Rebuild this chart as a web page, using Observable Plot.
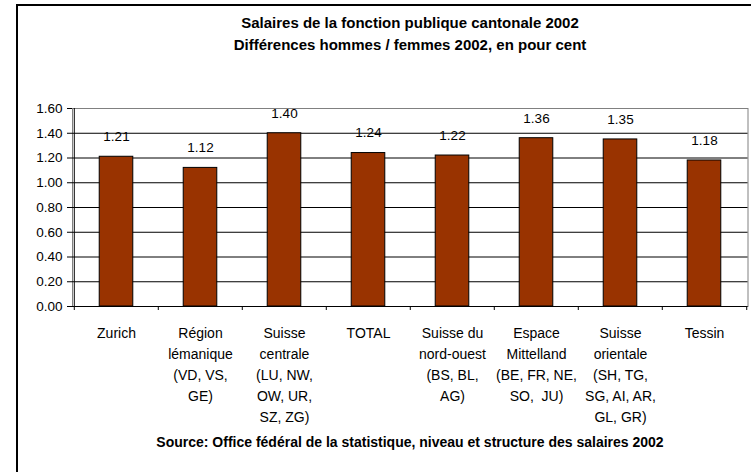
<!DOCTYPE html>
<html>
<head>
<meta charset="utf-8">
<script src="https://cdn.jsdelivr.net/npm/d3@7"></script>
<script src="https://cdn.jsdelivr.net/npm/@observablehq/plot@0.6"></script>
<style>
  html, body { margin: 0; padding: 0; background: white; }
  #wrap { position: relative; width: 751px; height: 472px; overflow: hidden; background: white;
          font-family: "Liberation Sans", Arial, sans-serif; color: black; }
  #frame { position: absolute; left: 16px; top: 4px; width: 900px; height: 600px; z-index: 2;
           border-left: 2px solid black; border-top: 2px solid black; pointer-events: none; }
  .title { position: absolute; left: 110px; width: 600px; text-align: center; font-weight: bold; font-size: 15px; line-height: 22px; top: 12px; }
  .source { position: absolute; left: 110px; width: 600px; text-align: center; font-weight: bold; font-size: 14px; top: 434px; white-space: nowrap; }
  #chart { position: absolute; left: 0; top: 90px; }
</style>
</head>
<body>
<div id="wrap">
  <div id="frame"></div>
  <div class="title">Salaires de la fonction publique cantonale 2002<br>Différences hommes / femmes 2002, en pour cent</div>
  <div id="chart"></div>
  <div class="source">Source: Office fédéral de la statistique, niveau et structure des salaires 2002</div>
</div>
<script>
const regions = ["Zurich", "Région lémanique", "Suisse centrale", "TOTAL", "Suisse du nord-ouest", "Espace Mittelland", "Suisse orientale", "Tessin"];
const labels = [
  "Zurich",
  "Région\nlémanique\n(VD, VS,\nGE)",
  "Suisse\ncentrale\n(LU, NW,\nOW, UR,\nSZ, ZG)",
  "TOTAL",
  "Suisse du\nnord-ouest\n(BS, BL,\nAG)",
  "Espace\nMittelland\n(BE, FR, NE,\nSO,  JU)",
  "Suisse\norientale\n(SH, TG,\nSG, AI, AR,\nGL, GR)",
  "Tessin"
];
const values = [1.21, 1.12, 1.40, 1.24, 1.22, 1.36, 1.35, 1.18];
const yTicks = [0, 0.2, 0.4, 0.6, 0.8, 1.0, 1.2, 1.4, 1.6];
const gridTicks = [0.2, 0.4, 0.6, 0.8, 1.0, 1.2, 1.4];

const data = regions.map((r, i) => ({region: r, label: labels[i], value: values[i]}));

const W = 751, H = 340, mL = 72, mR = 3.5, mT = 18, mB = 124;
const band = (W - mL - mR) / regions.length;
const barInset = (band - 34) / 2;

const chart = Plot.plot({
  width: W, height: H,
  marginLeft: mL, marginRight: mR, marginTop: mT, marginBottom: mB,
  style: { fontFamily: "Liberation Sans, Arial, sans-serif", fontSize: "13.5px", background: "transparent", color: "black", overflow: "visible" },
  x: { type: "band", domain: regions, padding: 0, axis: null, label: null },
  y: { domain: [0, 1.6], axis: null, label: null },
  marks: [
    Plot.frame({ stroke: "#808080" }),
    Plot.ruleY(gridTicks, { stroke: "black", strokeWidth: 1 }),
    Plot.barY(data, { x: "region", y: "value", fill: "#993300", stroke: "black", strokeWidth: 1, insetLeft: barInset, insetRight: barInset }),
    Plot.ruleY([0], { stroke: "black" }),
    Plot.ruleX([regions[0]], { x: d => d, dx: -band / 2, y1: 0, y2: 1.6, stroke: "black" }),
    Plot.axisY({ ticks: yTicks, tickFormat: d3.format(".2f"), tickSize: 5, tickPadding: 5, fontSize: 13.5, stroke: "black", label: null }),
    Plot.axisX({ ticks: regions, tickSize: 4, tickFormat: () => "", dx: -band / 2, stroke: "black", label: null }),
    Plot.axisX({ ticks: [regions[regions.length - 1]], tickSize: 4, tickFormat: () => "", dx: band / 2, stroke: "black", label: null }),
    Plot.text(data, { x: "region", y: "value", text: d => d.value.toFixed(2), dy: -20, fontSize: 13.5, fill: "black" }),
    Plot.text(data, { x: "region", text: "label", frameAnchor: "bottom", lineAnchor: "top", dy: 17, lineHeight: 1.5, fontSize: 14, fill: "black" })
  ]
});
document.getElementById("chart").appendChild(chart);
</script>
</body>
</html>
